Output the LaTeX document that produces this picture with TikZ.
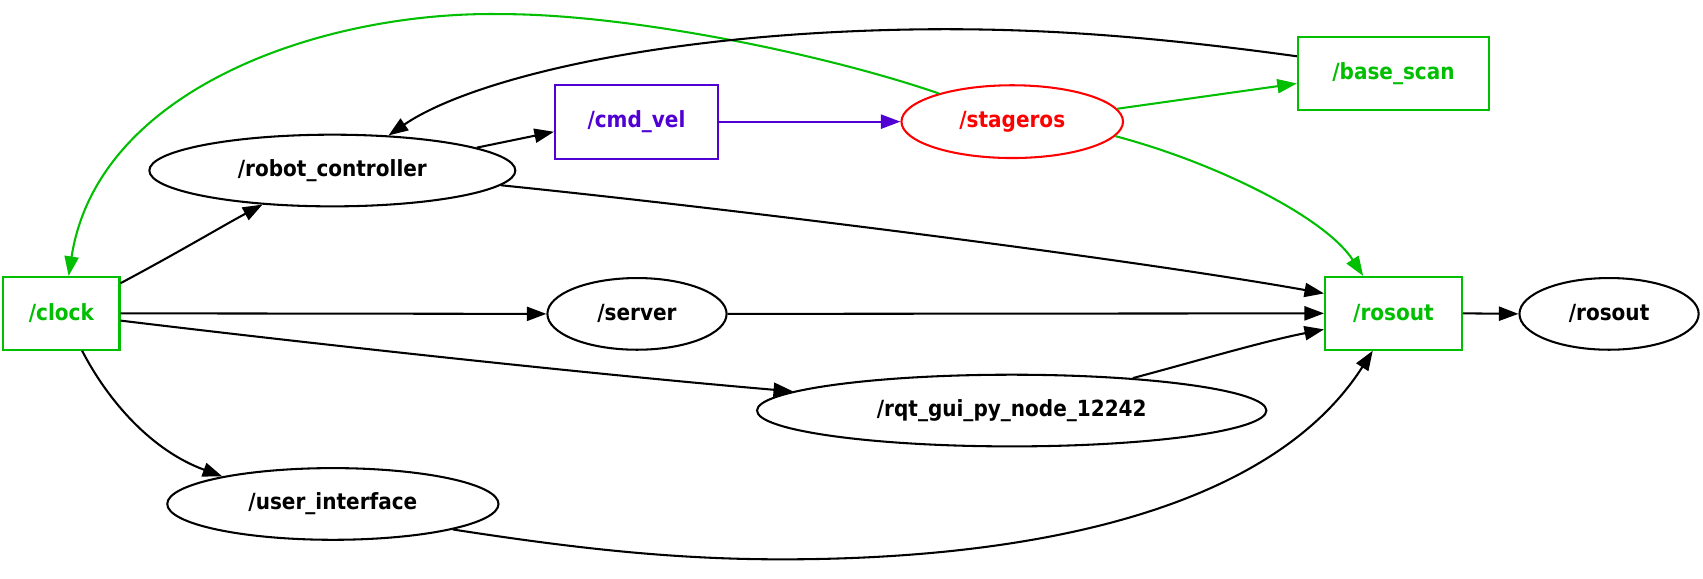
\documentclass[tikz,border=0pt]{standalone}
\usepackage{fontspec}
\setmainfont{DejaVu Sans Condensed}
\usetikzlibrary{arrows.meta,shapes.geometric}
\definecolor{rosgreen}{RGB}{0,190,0}
\definecolor{rospurple}{RGB}{80,0,210}
\definecolor{rosred}{RGB}{255,0,0}
\begin{document}
\begin{tikzpicture}[x=1pt,y=-1pt,
  font=\fontsize{20.5}{24}\selectfont\bfseries,
  every node/.style={inner sep=0pt, line width=1.9pt},
  topicbox/.style={draw=rosgreen, text=rosgreen, rectangle, minimum height=67pt},
  nodeell/.style={draw=black, ellipse, minimum height=66pt},
  edge/.style={line width=1.9pt, -{Triangle[length=18pt,width=13pt]}},
  gedge/.style={edge, draw=rosgreen, -{Triangle[length=18pt,width=13pt,fill=rosgreen]}},
]
\useasboundingbox (0,0) rectangle (1568,533);
% nodes
\node[topicbox, minimum width=107pt] (clock) at (56.5,288.5) {/clock};
\node[nodeell, minimum width=337pt] (robot) at (306,157) {/robot\_controller};
\node[rectangle, draw=rospurple, text=rospurple, minimum width=150pt, minimum height=68pt] (cmd) at (586,112) {/cmd\_vel};
\node[ellipse, draw=rosred, text=rosred, minimum width=204pt, minimum height=67pt] (stageros) at (932,112) {/stageros};
\node[topicbox, minimum width=176pt] (base) at (1283,67.5) {/base\_scan};
\node[nodeell, minimum width=165pt] (server) at (586.5,289) {/server};
\node[topicbox, minimum width=126pt] (rosoutT) at (1283,288.5) {/rosout};
\node[nodeell, minimum width=165pt] (rosoutN) at (1481.5,289) {/rosout};
\node[nodeell, minimum width=469pt] (rqt) at (931.5,378) {/rqt\_gui\_py\_node\_12242};
\node[nodeell, minimum width=305pt] (ui) at (306.5,464) {/user\_interface};
% edges
\draw[edge] (clock.27) .. controls (165,232) and (205,208) .. (robot.206.6);
\draw[edge] (clock.east) -- (server.west);
\draw[edge] (clock.353) .. controls (300,318) and (550,345) .. (rqt.175);
\draw[edge] (clock.299) .. controls (100,370) and (140,415) .. (ui.166);
\draw[gedge] (stageros.159.6) .. controls (760,50) and (580,13) .. (462,13)
  .. controls (300,10) and (90,80) .. (clock.79);
\draw[edge] (base.170.6) .. controls (1050,32) and (950,26) .. (850,27)
  .. controls (600,30) and (430,75) .. (robot.32.4);
\draw[edge] (robot.9.7) -- (cmd.187.6);
\draw[edge, draw=rospurple, -{Triangle[length=18pt,width=13pt,fill=rospurple]}] (cmd.east) -- (stageros.west);
\draw[gedge] (stageros.7.6) -- (base.186.8);
\draw[gedge] (stageros.352.4) .. controls (1120,150) and (1220,200) .. (rosoutT.129.9);
\draw[edge] (robot.355.1) .. controls (700,195) and (1050,240) .. (rosoutT.164.5);
\draw[edge] (server.east) -- (rosoutT.west);
\draw[edge] (rqt.15.1) .. controls (1100,333) and (1160,315) .. (rosoutT.193);
\draw[edge] (ui.348.5) .. controls (530,505) and (620,515) .. (720,515)
  .. controls (950,515) and (1170,470) .. (rosoutT.241.7);
\draw[edge] (rosoutT.east) -- (rosoutN.west);
\end{tikzpicture}
\end{document}
